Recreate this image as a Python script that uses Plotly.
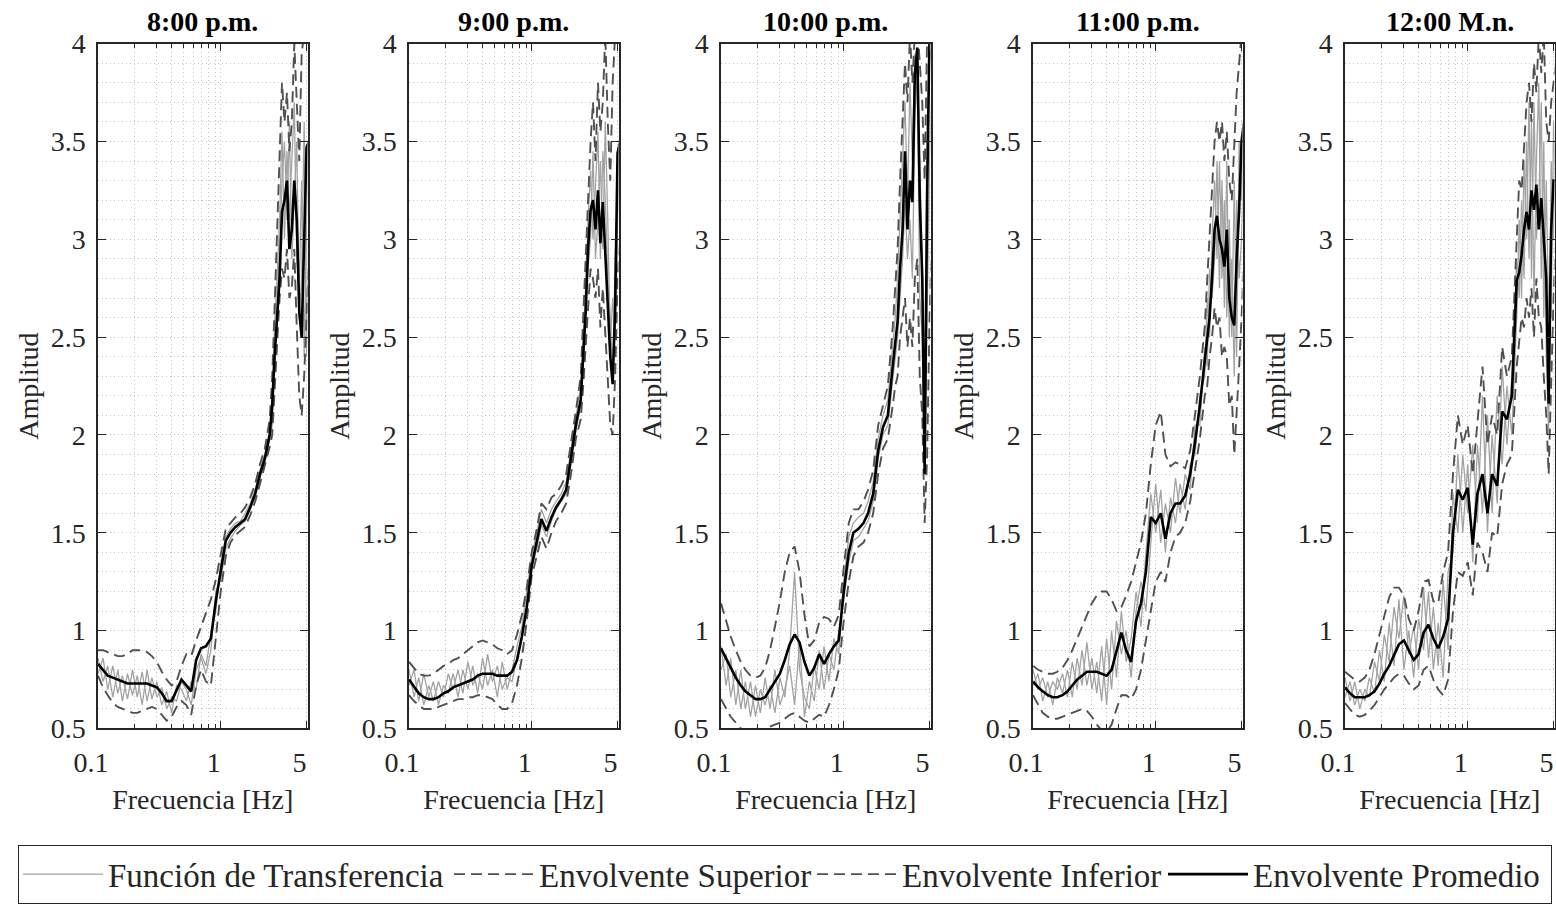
import math
import plotly.graph_objects as go

# ---------------- data ----------------
FREQ = [0.100, 0.110, 0.120, 0.132, 0.145, 0.158, 0.174, 0.191, 0.209, 0.229,
        0.251, 0.275, 0.302, 0.331, 0.363, 0.398, 0.437, 0.479, 0.525, 0.575,
        0.631, 0.692, 0.759, 0.832, 0.912, 1.000,
        1.10, 1.20, 1.32, 1.45, 1.58, 1.74, 1.91, 2.09, 2.29, 2.51,
        2.63, 2.75, 2.88, 3.02, 3.16, 3.31, 3.47, 3.63, 3.80, 3.98,
        4.17, 4.37, 4.57, 4.79, 5.01, 5.25]

TITLES = ["8:00 p.m.", "9:00 p.m.", "10:00 p.m.", "11:00 p.m.", "12:00 M.n."]

# 8:00 p.m.
MEAN_1 = [0.83, 0.80, 0.77, 0.76, 0.75, 0.74, 0.73, 0.73, 0.73, 0.73, 0.73, 0.72, 0.71, 0.68, 0.64, 0.64,
          0.70, 0.75, 0.72, 0.69, 0.85, 0.91, 0.92, 0.96, 1.15, 1.30,
          1.46, 1.50, 1.53, 1.55, 1.57, 1.63, 1.70, 1.80, 1.88, 2.00,
          2.15, 2.40, 2.60, 2.80, 3.14, 3.20, 3.30, 2.95, 3.05, 3.30, 3.10, 2.63, 2.50, 2.95, 3.47, 3.50]
UPPER_1 = [0.90, 0.90, 0.89, 0.88, 0.87, 0.87, 0.88, 0.90, 0.90, 0.90, 0.89, 0.87, 0.84, 0.79, 0.75, 0.72,
           0.74, 0.82, 0.88, 0.87, 0.95, 1.02, 1.08, 1.16, 1.26, 1.38,
           1.52, 1.55, 1.58, 1.60, 1.63, 1.68, 1.75, 1.85, 1.93, 2.08,
           2.30, 2.65, 3.00, 3.40, 3.80, 3.60, 3.75, 3.45, 3.60, 4.00, 3.70, 3.40, 3.95, 4.05, 4.05, 4.10]
LOWER_1 = [0.77, 0.71, 0.67, 0.63, 0.61, 0.60, 0.59, 0.58, 0.58, 0.59, 0.60, 0.61, 0.60, 0.57, 0.54, 0.56,
           0.61, 0.64, 0.62, 0.57, 0.72, 0.80, 0.74, 0.72, 0.95, 1.20,
           1.38, 1.45, 1.49, 1.51, 1.53, 1.59, 1.66, 1.75, 1.84, 1.94,
           2.00, 2.25, 2.50, 2.70, 2.85, 2.80, 2.95, 2.70, 2.75, 2.95, 2.55, 2.20, 2.10, 2.30, 2.60, 2.90]
TF_A_1 = [0.86, 0.74, 0.82, 0.66, 0.80, 0.64, 0.78, 0.67, 0.77, 0.62, 0.80, 0.65, 0.74, 0.62, 0.69, 0.58,
          0.72, 0.70, 0.64, 0.74, 0.70, 0.88, 0.82, 0.98, 1.10, 1.34,
          1.48, 1.52, 1.55, 1.56, 1.60, 1.65, 1.72, 1.82, 1.90, 2.03,
          2.20, 2.55, 2.80, 3.10, 3.55, 3.00, 3.45, 3.10, 3.40, 3.70, 2.90, 2.75, 3.30, 2.40, 3.10, 3.60]
TF_B_1 = [0.78, 0.86, 0.70, 0.82, 0.68, 0.77, 0.65, 0.80, 0.66, 0.79, 0.64, 0.76, 0.66, 0.71, 0.60, 0.66,
          0.64, 0.74, 0.70, 0.62, 0.80, 0.86, 0.78, 0.90, 1.20, 1.26,
          1.42, 1.47, 1.51, 1.54, 1.56, 1.62, 1.68, 1.78, 1.86, 1.98,
          2.05, 2.35, 2.70, 2.95, 3.30, 3.50, 3.10, 3.60, 2.90, 3.20, 3.50, 2.60, 2.80, 3.60, 2.40, 3.20]

# 9:00 p.m.
MEAN_2 = [0.75, 0.71, 0.68, 0.66, 0.65, 0.65, 0.66, 0.68, 0.69, 0.71, 0.72, 0.73, 0.74, 0.75, 0.77, 0.78,
          0.78, 0.78, 0.77, 0.77, 0.77, 0.79, 0.85, 0.97, 1.12, 1.33,
          1.45, 1.57, 1.51, 1.58, 1.63, 1.67, 1.72, 1.88, 2.05, 2.18,
          2.42, 2.62, 2.95, 3.15, 3.20, 3.05, 3.25, 2.98, 3.19, 2.95, 2.70, 2.40, 2.26, 2.65, 3.44, 3.50]
UPPER_2 = [0.84, 0.81, 0.78, 0.77, 0.77, 0.78, 0.80, 0.82, 0.83, 0.85, 0.86, 0.88, 0.90, 0.92, 0.94, 0.95,
           0.94, 0.93, 0.91, 0.90, 0.88, 0.90, 0.98, 1.08, 1.22, 1.40,
           1.52, 1.65, 1.62, 1.68, 1.70, 1.74, 1.80, 1.95, 2.12, 2.30,
           2.60, 2.90, 3.20, 3.50, 3.70, 3.40, 3.80, 3.55, 3.70, 4.05, 3.60, 3.30, 3.80, 4.05, 4.05, 4.10]
LOWER_2 = [0.67, 0.64, 0.62, 0.60, 0.60, 0.60, 0.61, 0.62, 0.63, 0.64, 0.65, 0.65, 0.66, 0.66, 0.67, 0.67,
           0.66, 0.65, 0.62, 0.60, 0.60, 0.63, 0.72, 0.86, 1.05, 1.28,
           1.38, 1.48, 1.42, 1.50, 1.56, 1.60, 1.65, 1.80, 1.98, 2.08,
           2.25, 2.45, 2.70, 2.85, 2.80, 2.70, 2.85, 2.55, 2.75, 2.50, 2.30, 2.05, 2.00, 2.30, 2.80, 3.00]
TF_A_2 = [0.72, 0.80, 0.64, 0.78, 0.66, 0.74, 0.62, 0.72, 0.68, 0.78, 0.66, 0.80, 0.70, 0.82, 0.68, 0.86,
          0.72, 0.80, 0.66, 0.84, 0.70, 0.80, 0.92, 1.02, 1.20, 1.38,
          1.50, 1.62, 1.55, 1.62, 1.66, 1.70, 1.76, 1.92, 2.08, 2.25,
          2.50, 2.75, 3.10, 3.35, 3.00, 3.30, 3.55, 2.90, 3.45, 3.20, 2.80, 2.60, 2.30, 2.90, 3.30, 3.60]
TF_B_2 = [0.80, 0.66, 0.76, 0.62, 0.72, 0.64, 0.74, 0.66, 0.78, 0.70, 0.80, 0.68, 0.84, 0.72, 0.78, 0.70,
          0.88, 0.74, 0.82, 0.70, 0.76, 0.74, 0.86, 0.96, 1.12, 1.32,
          1.42, 1.54, 1.48, 1.56, 1.62, 1.66, 1.70, 1.85, 2.02, 2.15,
          2.35, 2.60, 2.85, 3.00, 3.45, 2.90, 3.10, 3.40, 2.95, 3.60, 3.10, 2.45, 2.70, 2.50, 3.10, 3.40]

# 10:00 p.m.
MEAN_3 = [0.91, 0.86, 0.81, 0.76, 0.72, 0.69, 0.67, 0.65, 0.65, 0.66, 0.70, 0.74, 0.78, 0.85, 0.93, 0.98,
          0.94, 0.84, 0.77, 0.81, 0.88, 0.83, 0.88, 0.92, 0.95, 1.20,
          1.40, 1.50, 1.52, 1.55, 1.60, 1.70, 1.92, 2.04, 2.10, 2.35,
          2.48, 2.58, 2.85, 3.05, 3.45, 3.05, 3.30, 3.19, 3.84, 3.98, 3.20, 2.80, 1.80, 3.25, 4.05, 4.10]
UPPER_3 = [1.14, 1.05, 0.97, 0.90, 0.84, 0.80, 0.77, 0.76, 0.77, 0.81, 0.90, 1.02, 1.15, 1.30, 1.40, 1.43,
           1.30, 1.08, 0.92, 0.95, 1.04, 1.07, 1.06, 1.02, 1.08, 1.32,
           1.55, 1.62, 1.62, 1.66, 1.72, 1.82, 2.05, 2.15, 2.25, 2.55,
           2.75, 2.95, 3.30, 3.60, 3.90, 3.70, 4.05, 3.80, 4.05, 4.10, 3.90, 3.70, 3.30, 4.05, 4.10, 4.10]
LOWER_3 = [0.65, 0.60, 0.56, 0.53, 0.50, 0.48, 0.47, 0.48, 0.49, 0.50, 0.51, 0.52, 0.53, 0.55, 0.57, 0.58,
           0.56, 0.54, 0.53, 0.55, 0.57, 0.56, 0.62, 0.70, 0.80, 1.05,
           1.25, 1.38, 1.43, 1.45, 1.50, 1.60, 1.80, 1.93, 1.98, 2.15,
           2.25, 2.30, 2.50, 2.60, 2.70, 2.45, 2.60, 2.45, 2.80, 2.90, 2.30, 2.10, 1.55, 1.90, 2.60, 3.00]
TF_A_3 = [0.92, 0.72, 0.86, 0.62, 0.80, 0.60, 0.74, 0.56, 0.70, 0.62, 0.72, 0.58, 0.76, 0.66, 0.90, 1.30,
          0.80, 0.66, 0.60, 0.82, 0.70, 0.92, 0.74, 0.96, 0.88, 1.25,
          1.48, 1.55, 1.58, 1.60, 1.66, 1.76, 1.98, 2.10, 2.18, 2.45,
          2.60, 2.80, 3.10, 3.35, 3.70, 3.20, 3.80, 3.40, 3.95, 3.70, 3.40, 2.90, 2.20, 3.60, 3.90, 4.00]
TF_B_3 = [0.80, 0.88, 0.66, 0.80, 0.60, 0.74, 0.56, 0.72, 0.58, 0.76, 0.60, 0.80, 0.62, 0.70, 0.82, 0.62,
          0.94, 0.56, 0.74, 0.64, 0.90, 0.70, 0.88, 0.80, 1.00, 1.15,
          1.35, 1.46, 1.48, 1.52, 1.56, 1.66, 1.88, 2.00, 2.05, 2.28,
          2.40, 2.50, 2.70, 2.90, 3.20, 2.90, 3.10, 2.80, 3.60, 3.90, 2.70, 2.50, 1.80, 2.60, 3.40, 3.80]

# 11:00 p.m.
MEAN_4 = [0.74, 0.71, 0.69, 0.67, 0.66, 0.66, 0.67, 0.69, 0.72, 0.75, 0.77, 0.79, 0.79, 0.79, 0.78, 0.77,
          0.80, 0.90, 0.99, 0.90, 0.84, 1.05, 1.14, 1.30, 1.58, 1.55,
          1.60, 1.47, 1.60, 1.65, 1.65, 1.69, 1.80, 1.96, 2.15, 2.38,
          2.48, 2.60, 2.80, 3.05, 3.12, 3.00, 2.95, 2.86, 3.05, 2.70, 2.60, 2.56, 2.90, 3.15, 3.50, 3.60]
UPPER_4 = [0.82, 0.80, 0.79, 0.78, 0.78, 0.79, 0.81, 0.85, 0.90, 0.96, 1.02, 1.08, 1.14, 1.18, 1.20, 1.20,
           1.16, 1.10, 1.12, 1.18, 1.25, 1.35, 1.45, 1.60, 1.85, 2.05,
           2.12, 1.90, 1.84, 1.86, 1.85, 1.83, 1.92, 2.10, 2.30, 2.55,
           2.80, 3.05, 3.30, 3.50, 3.60, 3.50, 3.60, 3.40, 3.55, 3.30, 3.20, 3.50, 3.75, 3.90, 4.05, 4.10]
LOWER_4 = [0.67, 0.62, 0.58, 0.56, 0.55, 0.55, 0.56, 0.57, 0.58, 0.59, 0.60, 0.59, 0.56, 0.52, 0.49, 0.48,
           0.52, 0.60, 0.67, 0.67, 0.65, 0.70, 0.80, 0.95, 1.10, 1.25,
           1.30, 1.25, 1.40, 1.48, 1.50, 1.55, 1.66, 1.82, 1.98, 2.20,
           2.25, 2.40, 2.50, 2.65, 2.55, 2.60, 2.40, 2.45, 2.40, 2.15, 2.20, 1.90, 2.10, 2.35, 2.60, 2.90]
TF_A_4 = [0.80, 0.70, 0.76, 0.66, 0.74, 0.70, 0.78, 0.66, 0.84, 0.70, 0.90, 0.72, 0.86, 0.68, 0.92, 0.62,
          1.00, 0.76, 1.10, 0.84, 0.96, 1.20, 1.02, 1.40, 1.70, 1.50,
          1.72, 1.40, 1.68, 1.55, 1.75, 1.62, 1.85, 1.90, 2.20, 2.30,
          2.70, 2.50, 3.00, 3.30, 2.90, 3.40, 2.80, 3.20, 2.60, 3.10, 2.50, 3.30, 2.40, 3.50, 3.20, 3.70]
TF_B_4 = [0.72, 0.78, 0.64, 0.74, 0.62, 0.76, 0.68, 0.80, 0.66, 0.86, 0.72, 0.94, 0.70, 0.84, 0.64, 0.96,
          0.70, 1.05, 0.88, 1.00, 0.76, 1.10, 1.25, 1.10, 1.45, 1.75,
          1.45, 1.65, 1.50, 1.78, 1.60, 1.80, 1.72, 2.05, 2.05, 2.45,
          2.35, 2.85, 2.70, 2.90, 3.40, 2.75, 3.30, 2.65, 3.40, 2.50, 2.90, 2.30, 3.20, 2.80, 3.00, 3.40]

# 12:00 M.n.
MEAN_5 = [0.71, 0.68, 0.66, 0.66, 0.66, 0.67, 0.69, 0.73, 0.78, 0.82, 0.88, 0.93, 0.95, 0.90, 0.85, 0.88,
          0.99, 1.03, 0.96, 0.91, 0.97, 1.06, 1.50, 1.72, 1.67, 1.73,
          1.44, 1.70, 1.80, 1.60, 1.80, 1.74, 2.12, 2.08, 2.20, 2.79,
          2.83, 2.92, 3.05, 3.14, 3.05, 3.25, 3.15, 3.28, 3.05, 3.21, 3.00, 2.80, 2.16, 3.05, 3.30, 3.30]
UPPER_5 = [0.79, 0.77, 0.75, 0.74, 0.76, 0.80, 0.88, 0.98, 1.08, 1.17, 1.22, 1.22, 1.18, 1.06, 1.00, 1.10,
           1.25, 1.26, 1.15, 1.14, 1.30, 1.40, 1.80, 2.10, 1.95, 2.05,
           1.80, 2.05, 2.35, 1.95, 2.10, 2.00, 2.45, 2.30, 2.40, 3.00,
           3.30, 3.25, 3.50, 3.70, 3.80, 3.60, 3.90, 3.75, 4.05, 3.85, 4.05, 3.60, 3.50, 3.70, 3.80, 3.90]
LOWER_5 = [0.63, 0.60, 0.57, 0.56, 0.57, 0.59, 0.62, 0.66, 0.70, 0.73, 0.76, 0.78, 0.77, 0.73, 0.70, 0.72,
           0.80, 0.82, 0.75, 0.70, 0.67, 0.75, 1.10, 1.30, 1.28, 1.35,
           1.18, 1.45, 1.40, 1.30, 1.50, 1.48, 1.75, 1.85, 1.90, 2.35,
           2.50, 2.60, 2.55, 2.70, 2.60, 2.75, 2.50, 2.80, 2.60, 2.55, 2.30, 2.10, 1.80, 2.30, 2.70, 3.00]
TF_A_5 = [0.76, 0.64, 0.74, 0.60, 0.70, 0.66, 0.84, 0.74, 0.98, 0.84, 1.12, 0.96, 1.18, 0.88, 1.02, 0.80,
          1.22, 0.86, 1.12, 0.82, 1.26, 0.90, 1.70, 1.50, 1.90, 1.60,
          1.95, 1.55, 2.20, 1.50, 2.00, 1.65, 2.35, 1.95, 2.30, 2.90,
          2.70, 3.20, 2.80, 3.50, 2.90, 3.60, 2.70, 3.40, 3.80, 2.80, 3.50, 2.40, 2.00, 3.40, 3.00, 3.60]
TF_B_5 = [0.66, 0.74, 0.62, 0.70, 0.64, 0.76, 0.68, 0.90, 0.74, 1.04, 0.82, 1.16, 0.80, 1.00, 0.76, 1.06,
          0.90, 1.20, 0.80, 1.04, 0.76, 1.30, 1.40, 1.90, 1.50, 1.85,
          1.35, 1.95, 1.60, 2.10, 1.60, 2.20, 1.85, 2.25, 2.00, 2.60,
          3.10, 2.70, 3.40, 3.00, 3.70, 2.80, 3.70, 3.00, 3.20, 3.70, 2.60, 3.30, 2.60, 2.60, 3.60, 3.20]

X_TICKS = [0.1, 1, 5]
X_TICK_TEXT = ["0.1", "1", "5"]
X_MINOR = [0.2, 0.3, 0.4, 0.5, 0.6, 0.7, 0.8, 0.9]
Y_TICKS = [0.5, 1, 1.5, 2, 2.5, 3, 3.5, 4]
Y_TICK_TEXT = ["0.5", "1", "1.5", "2", "2.5", "3", "3.5", "4"]

PANELS = [
    (MEAN_1, UPPER_1, LOWER_1, [TF_A_1, TF_B_1]),
    (MEAN_2, UPPER_2, LOWER_2, [TF_A_2, TF_B_2]),
    (MEAN_3, UPPER_3, LOWER_3, [TF_A_3, TF_B_3]),
    (MEAN_4, UPPER_4, LOWER_4, [TF_A_4, TF_B_4]),
    (MEAN_5, UPPER_5, LOWER_5, [TF_A_5, TF_B_5]),
]

# ---------------- styling / layout ----------------
W, H = 1556, 904
LEFT_PX = [98, 409, 721, 1033, 1345]
PANEL_W = 209.5
TOP_PX, BOT_PX = 44, 735
FONT = "Liberation Serif"
AX = "#262626"
GRID = "#c4c4c4"
TF_COLOR = "#a3a3a3"
ENV_COLOR = "#505050"
ENV_DASH = "11px,6px"

fig = go.Figure()

for i, (mean, upper, lower, tfs) in enumerate(PANELS):
    xa = "x" if i == 0 else f"x{i+1}"
    ya = "y" if i == 0 else f"y{i+1}"
    first = i == 0
    for j, tf in enumerate(tfs):
        fig.add_trace(go.Scatter(
            x=FREQ, y=tf, mode="lines", xaxis=xa, yaxis=ya,
            line=dict(color=TF_COLOR, width=1.3),
            name="Función de Transferencia", legendgroup="tf",
            showlegend=first and j == 0, legendwidth=336, hoverinfo="skip"))
    fig.add_trace(go.Scatter(
        x=FREQ, y=upper, mode="lines", xaxis=xa, yaxis=ya,
        line=dict(color=ENV_COLOR, width=1.9, dash=ENV_DASH),
        name="Envolvente Superior", legendgroup="sup",
        showlegend=first, legendwidth=268, hoverinfo="skip"))
    fig.add_trace(go.Scatter(
        x=FREQ, y=lower, mode="lines", xaxis=xa, yaxis=ya,
        line=dict(color=ENV_COLOR, width=1.9, dash=ENV_DASH),
        name="Envolvente Inferior", legendgroup="inf",
        showlegend=first, legendwidth=256, hoverinfo="skip"))
    fig.add_trace(go.Scatter(
        x=FREQ, y=mean, mode="lines", xaxis=xa, yaxis=ya,
        line=dict(color="#000000", width=2.6),
        name="Envolvente Promedio", legendgroup="prom",
        showlegend=first, legendwidth=292, hoverinfo="skip"))

layout = dict(
    width=W, height=H, template="none",
    margin=dict(l=0, r=0, t=0, b=0, pad=0),
    paper_bgcolor="white", plot_bgcolor="white",
    font=dict(family=FONT, color=AX),
    showlegend=True,
    legend=dict(orientation="h", x=18 / W, y=1 - 853 / H, xanchor="left", yanchor="top",
                bordercolor=AX, borderwidth=1.2, bgcolor="white",
                font=dict(family=FONT, size=33, color=AX),
                itemwidth=80, tracegroupgap=0),
    annotations=[],
)

ydom = [1 - BOT_PX / H, 1 - TOP_PX / H]
for i in range(5):
    sfx = "" if i == 0 else str(i + 1)
    x0 = LEFT_PX[i] / W
    x1 = min((LEFT_PX[i] + PANEL_W) / W, 1.0)
    layout["xaxis" + sfx] = dict(
        domain=[x0, x1], anchor="y" + sfx, type="log",
        range=[-1, math.log10(5.1)],
        tickmode="array", tickvals=X_TICKS, ticktext=X_TICK_TEXT,
        ticks="inside", ticklen=8, tickwidth=1.2, tickcolor=AX,
        showline=True, linecolor=AX, linewidth=1.5, mirror="ticks",
        showgrid=True, gridcolor=GRID, gridwidth=1, griddash="1px,3px",
        minor=dict(tickmode="array", tickvals=X_MINOR, ticks="inside", ticklen=5,
                   tickwidth=1.2, tickcolor=AX, showgrid=True, gridcolor=GRID,
                   gridwidth=1, griddash="1px,3px"),
        zeroline=False, automargin=False,
        tickfont=dict(family=FONT, size=28, color=AX),
        ticklabelstandoff=8, ticklabelshift=-7,
        title=dict(text="Frecuencia [Hz]", font=dict(family=FONT, size=28, color=AX), standoff=13),
    )
    layout["yaxis" + sfx] = dict(
        domain=ydom, anchor="x" + sfx, range=[0.5, 4],
        tickmode="array", tickvals=Y_TICKS, ticktext=Y_TICK_TEXT,
        ticks="inside", ticklen=8, tickwidth=1.2, tickcolor=AX,
        showline=True, linecolor=AX, linewidth=1.5, mirror="ticks",
        showgrid=True, gridcolor=GRID, gridwidth=1, griddash="1px,3px",
        minor=dict(tick0=0.5, dtick=0.1, ticks="", showgrid=True, gridcolor=GRID,
                   gridwidth=1, griddash="1px,3px"),
        zeroline=False, automargin=False,
        tickfont=dict(family=FONT, size=28, color=AX),
        ticklabelstandoff=5,
        title=dict(text="Amplitud", font=dict(family=FONT, size=28, color=AX), standoff=4),
    )
    layout["annotations"].append(dict(
        text="<b>" + TITLES[i] + "</b>", xref="paper", yref="paper",
        x=(x0 + x1) / 2, y=1 - 22 / H, xanchor="center", yanchor="middle",
        showarrow=False, font=dict(family=FONT, size=28, color="#000000")))

fig.update_layout(**layout)
fig.write_html("out.html")
